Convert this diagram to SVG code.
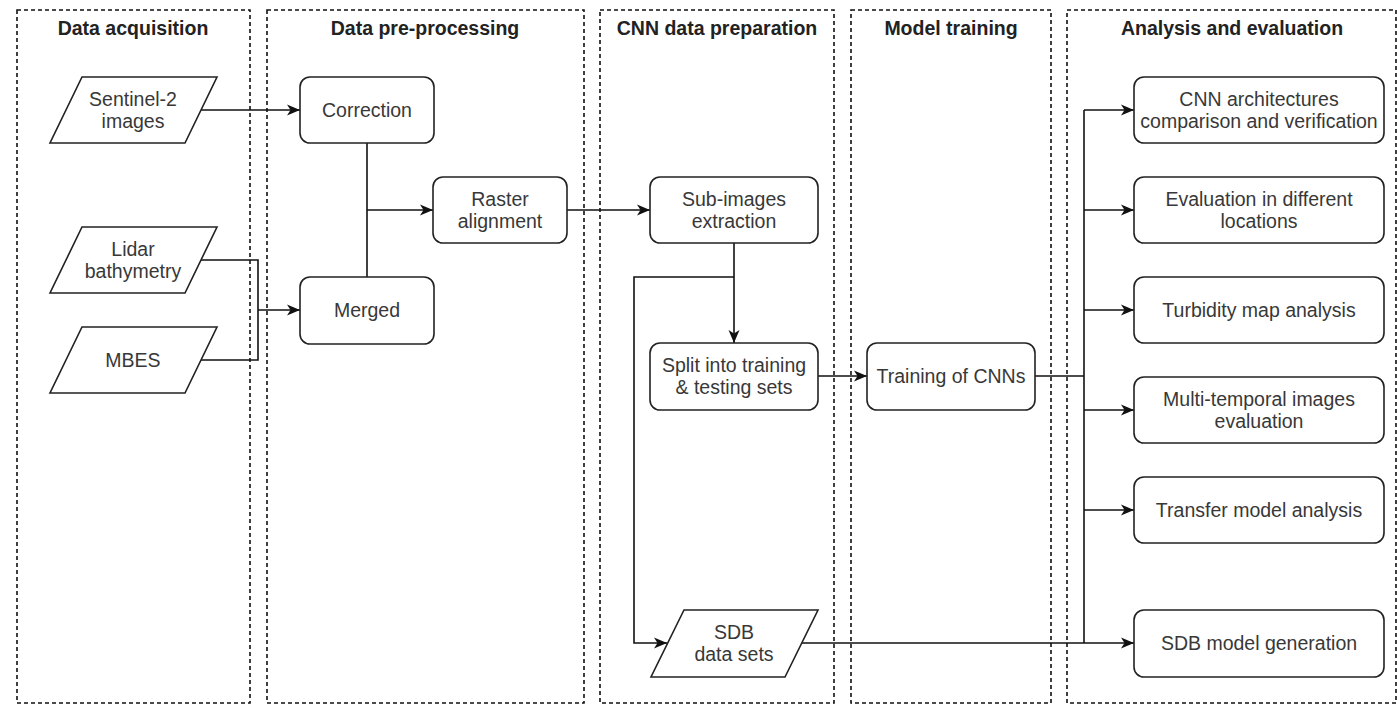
<svg xmlns="http://www.w3.org/2000/svg" width="1397" height="707" viewBox="0 0 1397 707">
<style>
.lane{fill:none;stroke:#111;stroke-width:1.6;stroke-dasharray:4 3}
.title{font-family:"Liberation Sans",Arial,sans-serif;font-size:19.5px;font-weight:bold;fill:#222;text-anchor:middle}
.box{fill:#fff;stroke:#222;stroke-width:1.6}
.lbl{font-family:"Liberation Sans",Arial,sans-serif;font-size:19.5px;fill:#383838;text-anchor:middle}
.con{fill:none;stroke:#111;stroke-width:1.6}
.arr{marker-end:url(#ah)}
</style>
<defs>
<marker id="ah" markerUnits="userSpaceOnUse" markerWidth="14" markerHeight="12" refX="13" refY="6" orient="auto">
<path d="M0,0.5 L13,6 L0,11.5 L3.5,6 Z" fill="#111"/>
</marker>
</defs>
<rect width="1397" height="707" fill="#fff"/>
<g id="lanes">
<rect class="lane" x="17" y="10" width="233" height="693"/>
<rect class="lane" x="267" y="10" width="317" height="693"/>
<rect class="lane" x="600" y="10" width="234" height="693"/>
<rect class="lane" x="851" y="10" width="200" height="693"/>
<rect class="lane" x="1067" y="10" width="329" height="693"/>
<text class="title" x="133" y="35">Data acquisition</text>
<text class="title" x="425" y="35">Data pre-processing</text>
<text class="title" x="717" y="35">CNN data preparation</text>
<text class="title" x="951" y="35">Model training</text>
<text class="title" x="1232" y="35">Analysis and evaluation</text>
</g>
<g id="connectors">
<path class="con arr" d="M201,110 H300"/>
<path class="con" d="M367,143 V277"/>
<path class="con arr" d="M367,210 H433"/>
<path class="con" d="M201,260 H258 V360 H201"/>
<path class="con arr" d="M258,310 H300"/>
<path class="con arr" d="M567,210 H650"/>
<path class="con arr" d="M734,243 V343"/>
<path class="con arr" d="M734,277 H634 V643 H667"/>
<path class="con arr" d="M818,376 H867"/>
<path class="con" d="M1035,376 H1084"/>
<path class="con" d="M1084,110 V643"/>
<path class="con arr" d="M1084,110 H1134"/>
<path class="con arr" d="M1084,210 H1134"/>
<path class="con arr" d="M1084,310 H1134"/>
<path class="con arr" d="M1084,410 H1134"/>
<path class="con arr" d="M1084,510 H1134"/>
<path class="con arr" d="M802,643 H1134"/>
</g>
<g id="sentinel">
<polygon class="box" points="82,77 217,77 185,143 50,143"/>
<text class="lbl" x="133" y="106">Sentinel-2</text>
<text class="lbl" x="133" y="128">images</text>
</g>
<g id="lidar">
<polygon class="box" points="82,227 217,227 185,293 50,293"/>
<text class="lbl" x="133" y="256">Lidar</text>
<text class="lbl" x="133" y="278">bathymetry</text>
</g>
<g id="mbes">
<polygon class="box" points="82,327 217,327 185,393 50,393"/>
<text class="lbl" x="133" y="367">MBES</text>
</g>
<g id="correction">
<rect class="box" x="300" y="77" width="134" height="66" rx="10"/>
<text class="lbl" x="367" y="117">Correction</text>
</g>
<g id="merged">
<rect class="box" x="300" y="277" width="134" height="67" rx="10"/>
<text class="lbl" x="367" y="317">Merged</text>
</g>
<g id="raster">
<rect class="box" x="433" y="177" width="134" height="66" rx="10"/>
<text class="lbl" x="500" y="206">Raster</text>
<text class="lbl" x="500" y="228">alignment</text>
</g>
<g id="subimages">
<rect class="box" x="650" y="177" width="168" height="66" rx="10"/>
<text class="lbl" x="734" y="206">Sub-images</text>
<text class="lbl" x="734" y="228">extraction</text>
</g>
<g id="split">
<rect class="box" x="650" y="343" width="168" height="67" rx="10"/>
<text class="lbl" x="734" y="372">Split into training</text>
<text class="lbl" x="734" y="394">&amp; testing sets</text>
</g>
<g id="sdbdata">
<polygon class="box" points="684,610 818,610 785,677 651,677"/>
<text class="lbl" x="734" y="639">SDB</text>
<text class="lbl" x="734" y="661">data sets</text>
</g>
<g id="training">
<rect class="box" x="867" y="343" width="168" height="67" rx="10"/>
<text class="lbl" x="951" y="383">Training of CNNs</text>
</g>
<g id="cnnarch">
<rect class="box" x="1134" y="77" width="250" height="66" rx="10"/>
<text class="lbl" x="1259" y="106">CNN architectures</text>
<text class="lbl" x="1259" y="128">comparison and verification</text>
</g>
<g id="evallocations">
<rect class="box" x="1134" y="177" width="250" height="66" rx="10"/>
<text class="lbl" x="1259" y="206">Evaluation in different</text>
<text class="lbl" x="1259" y="228">locations</text>
</g>
<g id="turbidity">
<rect class="box" x="1134" y="277" width="250" height="66" rx="10"/>
<text class="lbl" x="1259" y="317">Turbidity map analysis</text>
</g>
<g id="multitemporal">
<rect class="box" x="1134" y="377" width="250" height="66" rx="10"/>
<text class="lbl" x="1259" y="406">Multi-temporal images</text>
<text class="lbl" x="1259" y="428">evaluation</text>
</g>
<g id="transfer">
<rect class="box" x="1134" y="477" width="250" height="66" rx="10"/>
<text class="lbl" x="1259" y="517">Transfer model analysis</text>
</g>
<g id="sdbmodel">
<rect class="box" x="1134" y="610" width="250" height="67" rx="10"/>
<text class="lbl" x="1259" y="650">SDB model generation</text>
</g>
</svg>
